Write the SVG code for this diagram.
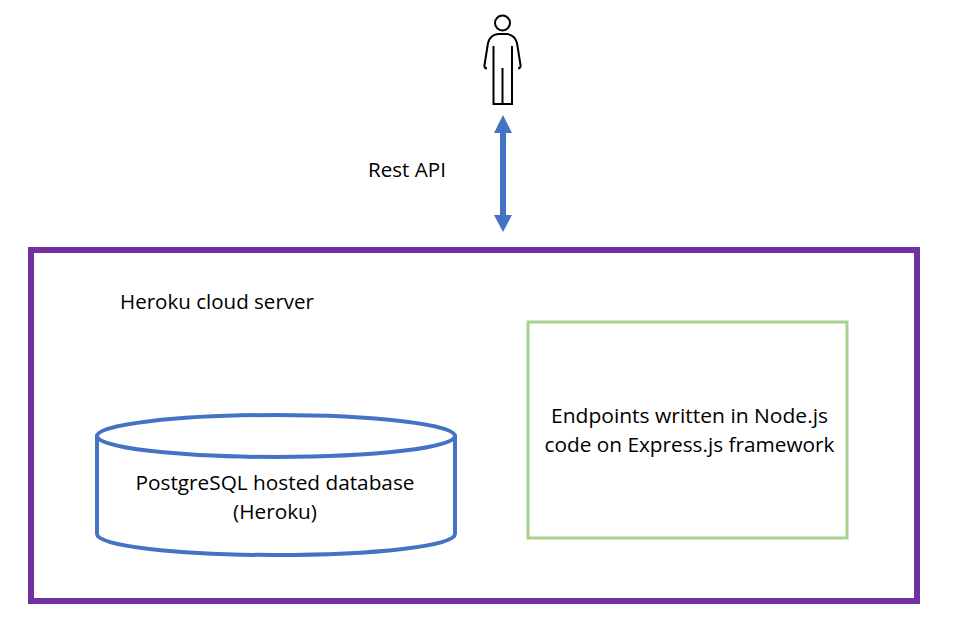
<svg xmlns="http://www.w3.org/2000/svg" width="968" height="625" viewBox="0 0 968 625">
<style>
text{font-family:"Open Sans","Noto Sans",sans-serif;font-size:20.5px;fill:#000}
.m{text-anchor:middle}
</style>
<rect width="968" height="625" fill="#fff"/>
<g id="connectors">
<path d="M503 130V218" fill="none" stroke="#4472c4" stroke-width="6"/>
<path d="M503 115L512 133H494Z M503 232L512 215H494Z" fill="#4472c4"/>
</g>
<g id="person" fill="none" stroke="#000" stroke-width="2">
<circle cx="502.500" cy="23" r="7.500"/>
<path d="M487 68.500Q484 68 484.500 65L488 43Q490 35 498 34H507Q515 35 517 43L520.500 65Q521 68 518 68.500"/>
<path d="M493.500 46V104H512V46M502.500 68V104"/>
</g>
<text id="rest-api" x="368" y="177" textLength="78" lengthAdjust="spacingAndGlyphs">Rest API</text>
<g id="heroku">
<rect x="31" y="250" width="886" height="351" fill="none" stroke="#7030a0" stroke-width="6"/>
<text x="120" y="309" textLength="194" lengthAdjust="spacingAndGlyphs">Heroku cloud server</text>
</g>
<g id="database">
<path d="M97 436V534C97 546 177 555 276 555S455 546 455 534V436" fill="#fff" stroke="#4472c4" stroke-width="4"/>
<ellipse cx="276" cy="436" rx="179" ry="21" fill="#fff" stroke="#4472c4" stroke-width="4"/>
<text class="m" x="275" y="490" textLength="279" lengthAdjust="spacingAndGlyphs">PostgreSQL hosted database</text>
<text class="m" x="275" y="519" textLength="84" lengthAdjust="spacingAndGlyphs">(Heroku)</text>
</g>
<g id="endpoints">
<rect x="528" y="322" width="319" height="216" fill="#fff" stroke="#a9d18e" stroke-width="3"/>
<text class="m" x="689.500" y="423" textLength="277" lengthAdjust="spacingAndGlyphs">Endpoints written in Node.js</text>
<text class="m" x="689.500" y="452" textLength="290" lengthAdjust="spacingAndGlyphs">code on Express.js framework</text>
</g>
</svg>
